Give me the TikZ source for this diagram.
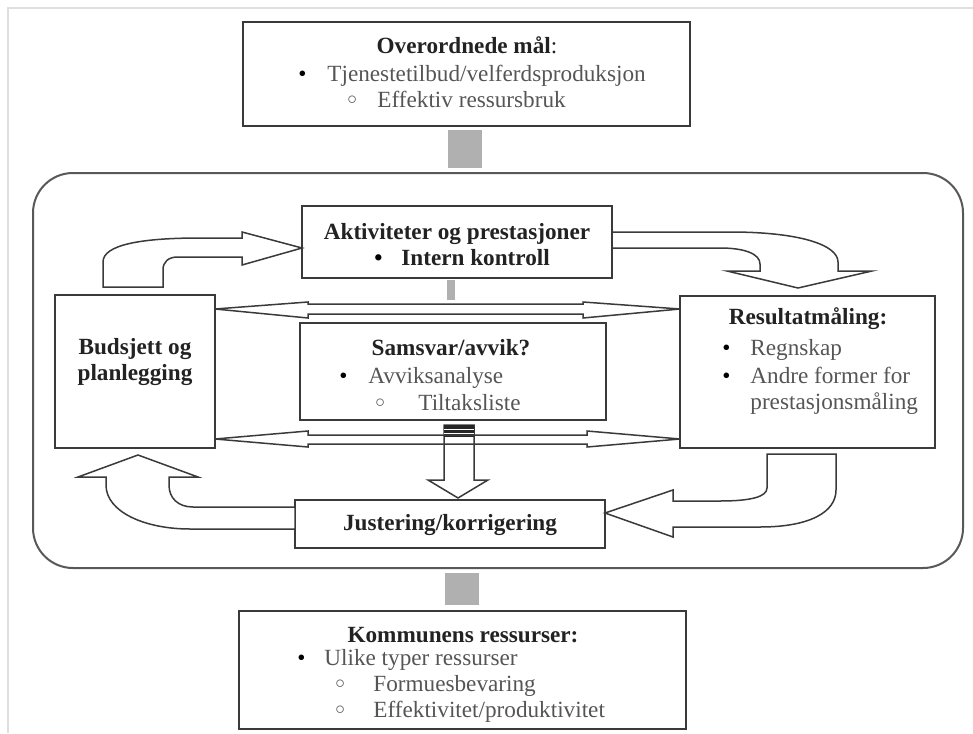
\documentclass[tikz,border=0pt]{standalone}
\usepackage{graphicx}
\usepackage{fontspec}
\setmainfont{Liberation Serif}

\definecolor{linegray}{HTML}{3A3A3A}
\definecolor{txtgray}{HTML}{555555}
\definecolor{boldgray}{HTML}{222222}
\definecolor{blockgray}{HTML}{B0B0B0}

\newcommand{\bodyfont}{\fontsize{11.6pt}{13pt}\selectfont}
\newcommand{\bul}[1]{\makebox[#1][l]{\textcolor{black}{\textbullet}}}
\newcommand{\ring}[1]{\makebox[#1][l]{\raisebox{0.1em}{\scalebox{0.8}{$\circ$}}}}

\tikzset{
  box/.style={draw=linegray, line width=1pt, rectangle, inner sep=0pt},
  head/.style={font=\bodyfont\bfseries, text=boldgray, inner sep=0pt, anchor=base},
  item/.style={font=\bodyfont, text=txtgray, inner sep=0pt, anchor=base west},
  bigarrow/.style={draw=linegray, line width=0.75pt, fill=white, line join=miter},
  link/.style={fill=blockgray, draw=none},
}

\begin{document}
\begin{tikzpicture}[x=0.5pt, y=-0.5pt]
  \useasboundingbox (0,0) rectangle (973,733);
  \draw[gray!25, line width=0.6pt] (8,733) -- (8,8) -- (973,8);

  % Frame round the control loop
  \draw[draw=linegray!85, line width=1pt, rounded corners=20pt] (33,173) rectangle (963,568);

  % Boxes
  \node[box, minimum width=223.5pt, minimum height=52pt] (maal)    at (466.5,74)  {};
  \node[box, minimum width=155pt,   minimum height=36pt] (aktiv)   at (457,242)   {};
  \node[box, minimum width=80pt,    minimum height=76.5pt] (budsj) at (135,371.5) {};
  \node[box, minimum width=153pt,   minimum height=48.5pt] (samsv) at (453,371.5) {};
  \node[box, minimum width=127.5pt, minimum height=76pt] (result)  at (807.5,372) {};
  \node[box, minimum width=155pt,   minimum height=24pt] (juster)  at (450,524)   {};
  \node[box, minimum width=223.5pt, minimum height=59pt] (ressurs) at (462.5,670) {};

  % Texts
  \node[head] (maal-head) at (467,54) {Overordnede mål\mdseries:};
  \node[item] (maal-a) at (298,82)  {\bul{14.5pt}Tjenestetilbud/velferdsproduksjon};
  \node[item] (maal-b) at (347,107) {\ring{15pt}Effektiv ressursbruk};

  \node[head] (aktiv-head) at (457,239) {Aktiviteter og prestasjoner};
  \node[head, anchor=base west] (aktiv-a) at (374,265) {\bul{13.5pt}Intern kontroll};

  \node[head] (budsj-a) at (135,354) {Budsjett og};
  \node[head] (budsj-b) at (135,380) {planlegging};

  \node[head] (samsv-head) at (451,355) {Samsvar/avvik?};
  \node[item] (samsv-a) at (339,383) {\bul{14.5pt}Avviksanalyse};
  \node[item] (samsv-b) at (375,410) {\ring{21.5pt}Tiltaksliste};

  \node[head] (result-head) at (808,324) {Resultatmåling:};
  \node[item] (result-a) at (722,355) {\bul{14pt}Regnskap};
  \node[item] (result-b) at (722,383) {\bul{14pt}Andre former for};
  \node[item] (result-c) at (750,409) {prestasjonsmåling};

  \node[head] (juster-head) at (450,530) {Justering/korrigering};

  \node[head] (ressurs-head) at (463,642) {Kommunens ressurser:};
  \node[item] (ressurs-a) at (297,665) {\bul{13.5pt}Ulike typer ressurser};
  \node[item] (ressurs-b) at (335,691) {\ring{19pt}Formuesbevaring};
  \node[item] (ressurs-c) at (335,717) {\ring{19pt}Effektivitet/produktivitet};

  % Gray links
  \fill[link] (448,130) rectangle (482,168);
  \fill[link] (447,280) rectangle (455,300);
  \fill[link] (445,573) rectangle (479,605);

  % Down arrow to Justering
  \draw[bigarrow] (444,425) -- (444,480) -- (428,480) -- (458,498) -- (488,480) -- (474,480) -- (474,425) -- cycle;
  \fill[black!85] (444,425) rectangle (474,437);
  \draw[white, line width=0.6pt] (444,429.5) -- (474,429.5) (444,433.5) -- (474,433.5);

  % Double arrows
  \draw[bigarrow, fill=none] (215,309) -- (308,302) -- (308,304) -- (583,304) -- (583,302) -- (680,309)
        -- (583,318) -- (583,314) -- (308,314) -- (308,318) -- cycle;
  \draw[bigarrow, fill=none] (215,439) -- (308,431) -- (308,435) -- (587,435) -- (587,431) -- (680,439)
        -- (587,447) -- (587,444) -- (308,444) -- (308,447) -- cycle;

  % Curved arrows of the loop
  \draw[bigarrow] (103,287) -- (103,262) .. controls (103,245) and (140,238) .. (200,238) -- (242,238)
        -- (242,232) -- (302,248) -- (242,265) -- (242,257) -- (178,257)
        .. controls (168,257) and (163,262) .. (163,270) -- (163,287) -- cycle;
  \draw[bigarrow] (612,232) -- (730,232) .. controls (800,232) and (838,245) .. (838,262) -- (838,271)
        -- (872,271) -- (798,288) -- (727,271) -- (760,271) -- (760,264)
        .. controls (760,254) and (745,248) .. (720,248) -- (612,248) -- cycle;
  \draw[bigarrow] (767,454) -- (767,488) .. controls (767,497) and (750,501) .. (720,501) -- (673,501)
        -- (673,490) -- (605,513) -- (673,537) -- (673,527) -- (760,527)
        .. controls (810,527) and (836,512) .. (836,490) -- (836,454) -- cycle;
  \draw[bigarrow] (295,507) -- (193,507) .. controls (178,507) and (169,498) .. (169,485) -- (169,477)
        -- (198,477) -- (138,455) -- (78,477) -- (106,477) -- (106,485)
        .. controls (106,512) and (145,529) .. (190,529) -- (295,529) -- cycle;
\end{tikzpicture}
\end{document}
